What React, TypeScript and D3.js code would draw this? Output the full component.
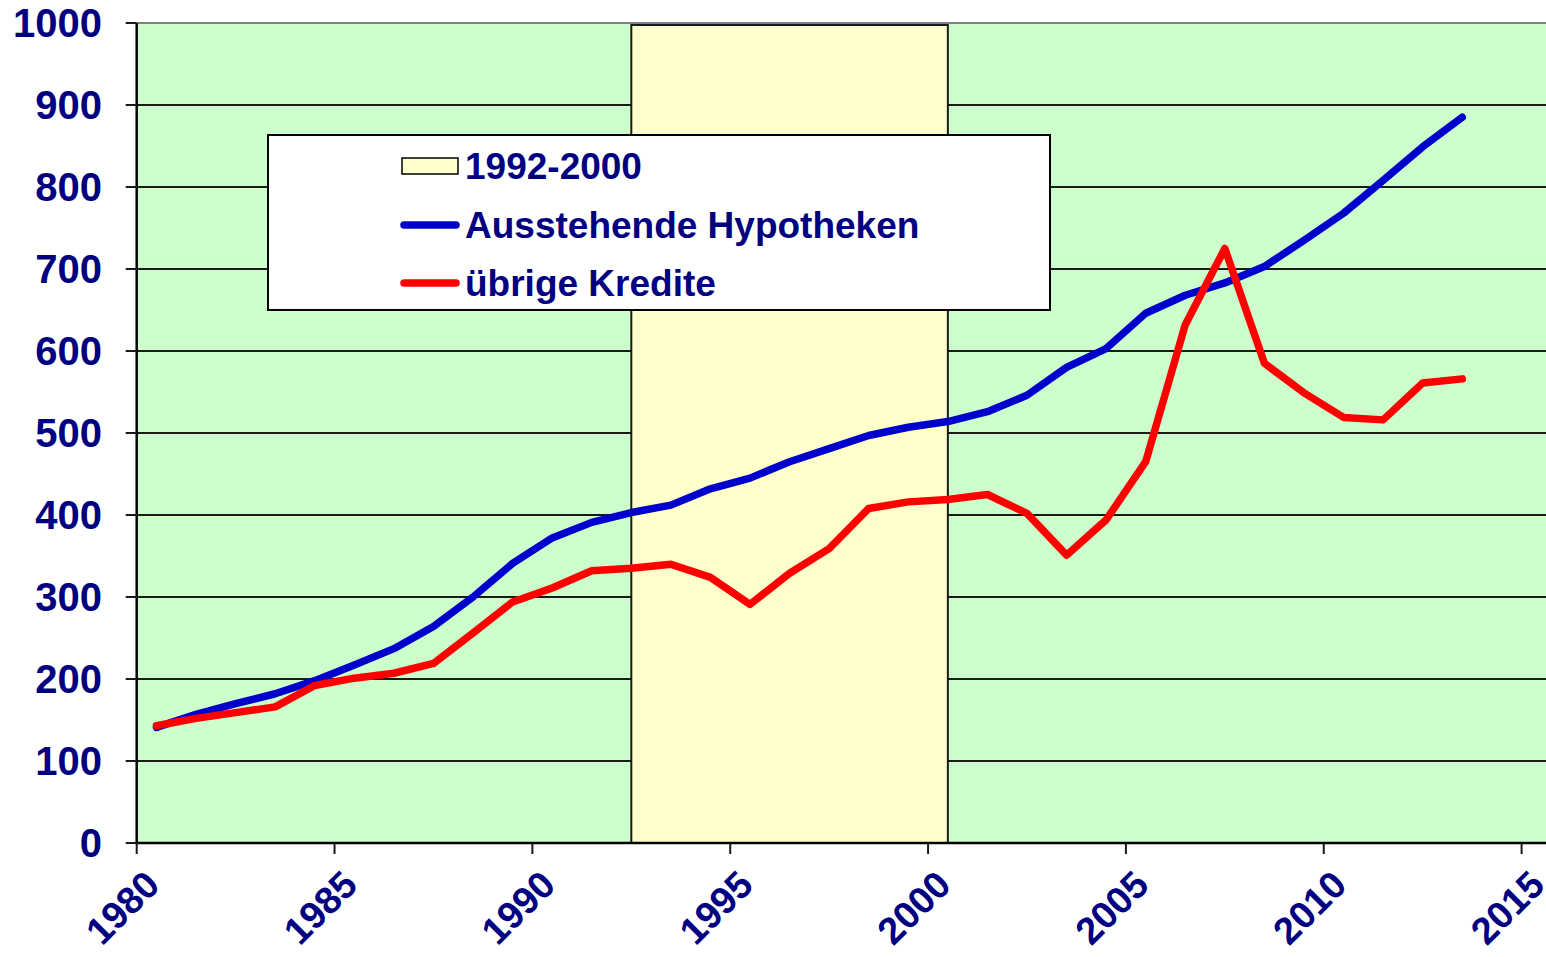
import React from "react";
import * as d3 from "d3";

const years: number[] = [
  1980, 1981, 1982, 1983, 1984, 1985, 1986, 1987, 1988, 1989,
  1990, 1991, 1992, 1993, 1994, 1995, 1996, 1997, 1998, 1999,
  2000, 2001, 2002, 2003, 2004, 2005, 2006, 2007, 2008, 2009,
  2010, 2011, 2012, 2013,
];
const hypotheken: number[] = [
  141, 157, 170, 182, 198, 217, 237, 264, 300, 341,
  372, 391, 403, 412, 432, 445, 465, 481, 497, 507,
  514, 526, 546, 580, 603, 646, 668, 683, 703, 735,
  768, 808, 849, 885,
];
const uebrigeKredite: number[] = [
  143, 152, 159, 166, 192, 201, 207, 219, 256, 294,
  311, 332, 335, 340, 324, 291, 329, 359, 408, 416,
  419, 425, 402, 351, 394, 465, 632, 725, 585, 549,
  519, 516, 561, 566,
];
const yTicks: number[] = [0, 100, 200, 300, 400, 500, 600, 700, 800, 900, 1000];
const xTicks: number[] = [1980, 1985, 1990, 1995, 2000, 2005, 2010, 2015];
const bandRange: number[] = [1992, 2000];
const legendLabels: string[] = ["1992-2000", "Ausstehende Hypotheken", "übrige Kredite"];

const W = 1546;
const H = 957;
const NAVY = "#000080";
const FONT = "'Liberation Sans', Arial, sans-serif";

export default function App() {
  const x = d3.scaleLinear().domain([1980, 2015]).range([136.7, 1521.6]);
  const y = d3.scaleLinear().domain([0, 1000]).range([843, 23]);
  const left = x(1980);
  const right = W;
  const top = y(1000);
  const bottom = y(0);

  const line = d3
    .line<number>()
    .x((_, i) => x(years[i] + 0.5))
    .y((d) => y(d));

  const bx0 = x(bandRange[0] + 0.5);
  const bx1 = x(bandRange[1] + 0.5);

  const lg = { x: 268, y: 135, w: 782, h: 175 };
  const rowY = [166, 225, 283];

  return (
    <svg
      width={W}
      height={H}
      style={{ position: "absolute", left: 0, top: 0, background: "#fff" }}
      fontFamily={FONT}
    >
      <rect x={left} y={top} width={right - left} height={bottom - top} fill="#CCFFCC" />
      {yTicks.map((t) => (
        <line
          key={"g" + t}
          x1={left}
          x2={right}
          y1={y(t)}
          y2={y(t)}
          stroke={t === 1000 ? "#808080" : "#1a1a1a"}
          strokeWidth={2}
        />
      ))}
      <rect
        x={bx0}
        y={top + 2}
        width={bx1 - bx0}
        height={bottom - top - 2}
        fill="#FFFFCC"
        stroke="#1a1a1a"
        strokeWidth={2}
      />
      <path
        d={line(hypotheken) || ""}
        fill="none"
        stroke="#0000CC"
        strokeWidth={7.5}
        strokeLinejoin="round"
        strokeLinecap="round"
      />
      <path
        d={line(uebrigeKredite) || ""}
        fill="none"
        stroke="#FF0000"
        strokeWidth={7.5}
        strokeLinejoin="round"
        strokeLinecap="round"
      />
      {/* axes */}
      <line x1={left} x2={left} y1={top} y2={bottom + 1} stroke="#000" strokeWidth={2.5} />
      <line x1={left - 1} x2={right} y1={bottom} y2={bottom} stroke="#000" strokeWidth={2.5} />
      {yTicks.map((t) => (
        <g key={"yt" + t}>
          <line x1={left - 11} x2={left} y1={y(t)} y2={y(t)} stroke="#1a1a1a" strokeWidth={2} />
          <text
            x={102}
            y={y(t)}
            dy="0.36em"
            textAnchor="end"
            fontSize={40}
            fontWeight="bold"
            fill={NAVY}
          >
            {t}
          </text>
        </g>
      ))}
      {xTicks.map((t) => (
        <g key={"xt" + t}>
          <line x1={x(t)} x2={x(t)} y1={bottom} y2={bottom + 11} stroke="#1a1a1a" strokeWidth={2} />
          <text
            transform={`translate(${x(t) + 25},${bottom + 44}) rotate(-45)`}
            textAnchor="end"
            fontSize={38}
            fontWeight="bold"
            fill={NAVY}
          >
            {t}
          </text>
        </g>
      ))}
      {/* legend */}
      <rect x={lg.x} y={lg.y} width={lg.w} height={lg.h} fill="#fff" stroke="#000" strokeWidth={2} />
      <rect x={402} y={rowY[0] - 8} width={56} height={16} fill="#FFFFCC" stroke="#000" strokeWidth={1.5} />
      <line x1={404} x2={456} y1={rowY[1]} y2={rowY[1]} stroke="#0000CC" strokeWidth={7.5} strokeLinecap="round" />
      <line x1={404} x2={456} y1={rowY[2]} y2={rowY[2]} stroke="#FF0000" strokeWidth={7.5} strokeLinecap="round" />
      {legendLabels.map((l, i) => (
        <text
          key={l}
          x={465}
          y={rowY[i]}
          dy="0.36em"
          fontSize={37}
          fontWeight="bold"
          fill={NAVY}
        >
          {l}
        </text>
      ))}
    </svg>
  );
}
